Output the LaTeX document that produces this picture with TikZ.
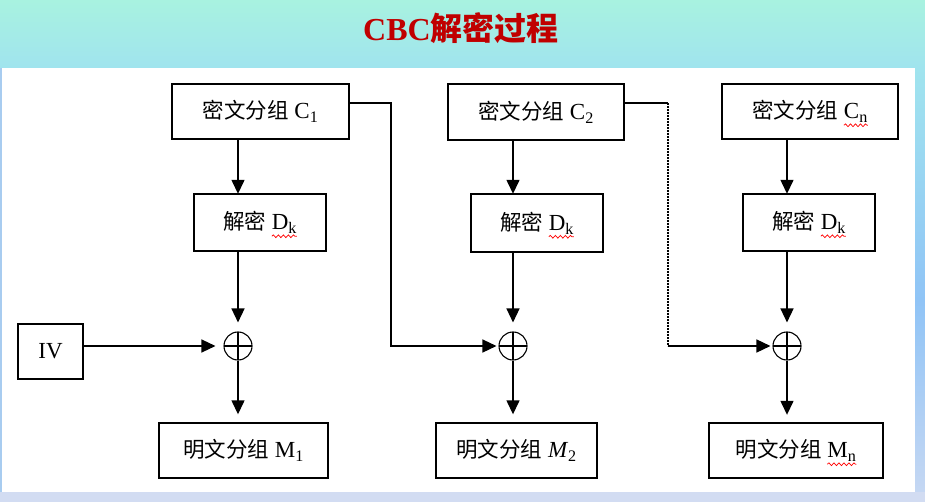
\documentclass[tikz,border=0pt]{standalone}
\usepackage{fontspec}
\setmainfont{Liberation Serif}
\newfontfamily\cjkfont{Noto Sans CJK SC}
\usetikzlibrary{arrows.meta, calc, decorations.pathmorphing}
\newcommand{\zh}[1]{{\cjkfont\fontsize{21.5}{25}\selectfont #1}}
\newcommand{\wavy}[1]{\setbox0\hbox{#1}\rlap{\tikz[overlay, baseline=0pt]\draw[red, line width=0.7pt,
  decorate, decoration={snake, amplitude=1.4pt, segment length=5pt}] (0pt,-6.5pt) -- (\the\wd0,-6.5pt);}\box0}
\definecolor{mintc}{HTML}{A8F2E0}
\definecolor{cyanc}{HTML}{A0E4EE}
\definecolor{bluec}{HTML}{90C4F6}
\definecolor{lavc}{HTML}{D2DCF2}
\definecolor{edgec}{HTML}{A8CCF0}
\definecolor{titlered}{HTML}{C00000}

\begin{document}
\begin{tikzpicture}[x=1pt, y=-1pt, line width=1.4pt,
  box/.style={draw, rectangle, inner sep=0pt, font=\fontsize{23}{27}\selectfont},
  xorc/.style={circle, draw, minimum size=28pt, inner sep=0pt, line width=1.1pt,
    path picture={\draw[line width=1.1pt] (path picture bounding box.north) -- (path picture bounding box.south)
      (path picture bounding box.west) -- (path picture bounding box.east);}},
  flow/.style={-{Triangle[length=14pt, width=13pt]}}]
\useasboundingbox (0,0) rectangle (925,502);
% background
\shade[top color=mintc, bottom color=cyanc] (0,0) rectangle (925,68);
\shade[top color=cyanc, bottom color=bluec] (915,68) rectangle (925,300);
\shade[top color=bluec, bottom color=lavc!80!bluec] (915,300) rectangle (925,492);
\fill[lavc] (0,492) rectangle (925,502);
\fill[edgec] (0,68) rectangle (1.5,492);
\fill[white] (1.5,68) rectangle (915,492);
\node[text=titlered, font=\bfseries\fontsize{32}{36}\selectfont] (title) at (461,28) {CBC{\cjkfont 解密过程}};

% blocks
\node[box, minimum width=177pt, minimum height=55pt] (c1) at (260.5,111.5) {\zh{密文分组} C\textsubscript{1}};
\node[box, minimum width=176pt, minimum height=56pt] (c2) at (536,112)    {\zh{密文分组} C\textsubscript{2}};
\node[box, minimum width=176pt, minimum height=55pt] (c3) at (810,111.5)  {\zh{密文分组} \wavy{C\textsubscript{n}}};
\node[box, minimum width=132pt, minimum height=57pt] (d1) at (260,222.5)  {\zh{解密} \wavy{D\textsubscript{k}}};
\node[box, minimum width=132pt, minimum height=58pt] (d2) at (537,223)    {\zh{解密} \wavy{D\textsubscript{k}}};
\node[box, minimum width=132pt, minimum height=57pt] (d3) at (809,222.5)  {\zh{解密} \wavy{D\textsubscript{k}}};
\node[box, minimum width=65pt,  minimum height=55pt] (iv) at (50.5,351.5) {IV};
\node[xorc] (x1) at (238,346) {};
\node[xorc] (x2) at (513,346) {};
\node[xorc] (x3) at (787,346) {};
\node[box, minimum width=169pt, minimum height=55pt] (m1) at (243.5,450.5) {\zh{明文分组} M\textsubscript{1}};
\node[box, minimum width=161pt, minimum height=55pt] (m2) at (516.5,450.5) {\zh{明文分组} \textit{M}\textsubscript{2}};
\node[box, minimum width=174pt, minimum height=55pt] (m3) at (796,450.5)   {\zh{明文分组} \wavy{M\textsubscript{n}}};
\coordinate (k1) at (391,103);
\coordinate (k2) at (668,103);

% connectors
\path[flow]
(c1.south -| x1) edge (d1.north -| x1)
(c2.south -| x2) edge (d2.north -| x2)
(c3.south -| x3) edge (d3.north -| x3)
(d1.south -| x1) edge [shorten >=9pt] (x1)
(d2.south -| x2) edge [shorten >=9pt] (x2)
(d3.south -| x3) edge [shorten >=9pt] (x3)
(x1) edge [shorten >=8pt] (m1.north -| x1)
(x2) edge [shorten >=8pt] (m2.north -| x2)
(x3) edge [shorten >=8pt] (m3.north -| x3)
(iv.east |- x1) edge [shorten >=8pt] (x1);
\draw[flow, shorten >=2pt] (c1.east |- k1) -- (k1) -- (k1 |- x2) -- (x2);
\draw (c2.east |- k2) -- (k2);
\draw[line width=1.3pt, dash pattern=on 1.6pt off 1.4pt] (k2) -- (k2 |- x3);
\draw[flow, shorten >=2pt] (k2 |- x3) -- (x3);
\end{tikzpicture}
\end{document}
